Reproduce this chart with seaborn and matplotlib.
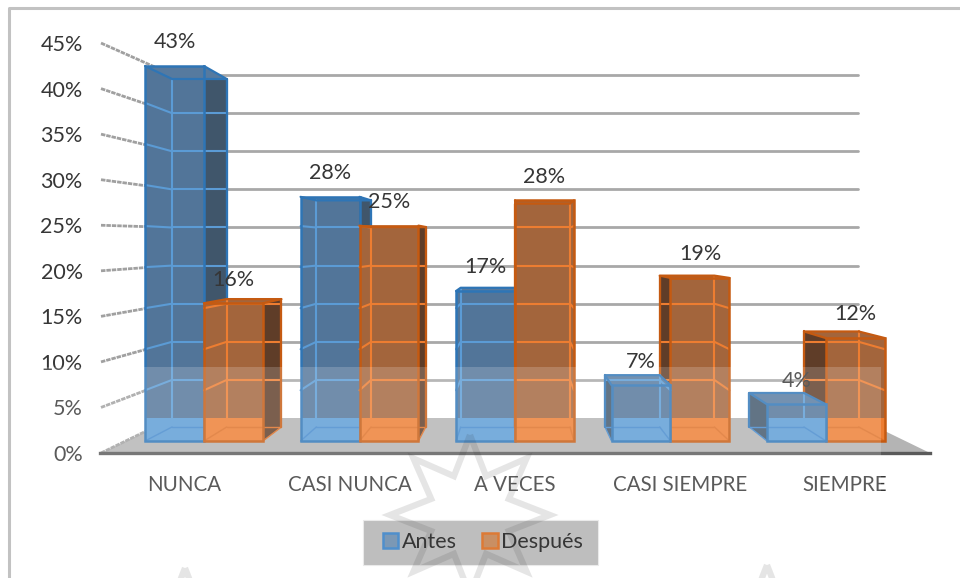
import numpy as np
import pandas as pd
import seaborn as sns
import matplotlib.pyplot as plt
from matplotlib.patches import Patch, Polygon, Rectangle

categorias = ["NUNCA", "CASI NUNCA", "A VECES", "CASI SIEMPRE", "SIEMPRE"]
antes = [43, 28, 17.2, 6.4, 4.2]
despues = [15.8, 24.7, 27.6, 18.7, 11.8]
etiquetas_antes = ["43%", "28%", "17%", "7%", "4%"]
etiquetas_despues = ["16%", "25%", "28%", "19%", "12%"]
ticks_pct = [0, 5, 10, 15, 20, 25, 30, 35, 40, 45]

W, H = 960, 578
sns.set_theme(style="white")
plt.rcParams["font.family"] = ["Lato", "DejaVu Sans"]
TXT = "#363636"

df = pd.DataFrame({
    "categoria": categorias * 2,
    "valor": antes + despues,
    "serie": ["Antes"] * 5 + ["Después"] * 5,
})

# pixel layout of the original picture
X0, PITCH = 204, 155.5   # first group centre, group spacing
Y0, SCALE = 441, 8.72    # bar baseline, px per percent
TOP = 30


def xd(px):
    return (px - X0) / PITCH


def yd(py):
    return (Y0 - py) / SCALE


# vanishing point of the fake 3d, ratio back/front of a bar, ratio of the front edge of the floor
VX, VY, D, F = xd(520), yd(246), 0.928, 1.0615


def back(x, y):
    return VX + D * (x - VX), VY + D * (y - VY)


fig = plt.figure(figsize=(W / 100, H / 100), dpi=100)
ax = fig.add_axes([100 / W, (H - 453) / H, 830 / W, (453 - TOP) / H])

# floor
ax.add_patch(Polygon([(xd(101), yd(453)), (xd(173), yd(418)), (xd(858), yd(418)), (xd(930), yd(453))],
                     closed=True, fc="#b4b4b4", ec="none", zorder=0.5))
# walls
for t in ticks_pct:
    fy = yd(453 - 9.11 * t)
    by = yd(418 - 7.62 * t)
    ax.plot([xd(101), xd(173)], [fy, by], color="#a0a0a0", lw=2.0, ls=(0, (1.6, 0.35)), zorder=0.6, clip_on=False)
    if t > 0:
        ax.plot([xd(173), xd(858)], [by, by], color="#a8a8a8", lw=2.0, zorder=0.6, clip_on=False)

sns.barplot(data=df, x="categoria", y="valor", hue="serie", order=categorias,
            hue_order=["Antes", "Después"], palette=["#527599", "#a3653c"],
            width=0.758, gap=0, saturation=1, legend=False, ax=ax)

ax.set_xlim(xd(100), xd(930))
ax.set_ylim(yd(453), yd(TOP))
ax.set_xlabel("")
ax.set_ylabel("")
# group labels sit on the front edge of the floor, so they spread out a bit
ax.set_xticks([VX + F * (i - VX) for i in range(5)], categorias)
ax.tick_params(axis="x", length=0, pad=16, labelsize=14.8, labelcolor=TXT)
ax.set_yticks([])
for s in ["top", "left", "right"]:
    ax.spines[s].set_visible(False)
ax.spines["bottom"].set_color("#5a5a5a")
ax.spines["bottom"].set_linewidth(2.4)

ESTILOS = [
    dict(edge="#2e75b6", line="#5b9bd5", low="#4388cc", side="#40566b", top="#567a9f", fl="#5b9bd5"),
    dict(edge="#c55a11", line="#ed7d31", low="#dd6f25", side="#5f3d28", top="#a3653c", fl="#ed7d31"),
]

# bars left of the vanishing point are stacked left to right, the others right to left
for j, (cont, est, etiquetas) in enumerate(zip(ax.containers, ESTILOS, [etiquetas_antes, etiquetas_despues])):
    for i, bar in enumerate(cont):
        x1, x2, h = bar.get_x(), bar.get_x() + bar.get_width(), bar.get_height()
        z = 2 + (i * 2 + j) * 2 if i < 3 else 30 + ((4 - i) * 2 + 1 - j) * 2
        bar.set_zorder(z)
        bar.set_edgecolor("none")
        bx1, by_top = back(x1, h)
        bx2, _ = back(x2, h)
        _, by_bot = back(x1, 0)
        # hull so the depth part is filled too
        ax.add_patch(Polygon([(x1, 0), (x2, 0), (bx2, by_bot), (bx2, by_top), (bx1, by_top), (bx1, by_bot)],
                             fc=bar.get_facecolor(), ec="none", zorder=z, clip_on=False))
        # dark side
        if bx2 > x2:
            sx, bsx = x2, bx2
        else:
            sx, bsx = x1, bx1
        ax.add_patch(Polygon([(sx, 0), (sx, h), (bsx, by_top), (bsx, by_bot)],
                             fc=est["side"], ec="none", zorder=z + 0.1, clip_on=False))
        # top face
        ax.add_patch(Polygon([(x1, h), (x2, h), (bx2, by_top), (bx1, by_top)],
                             fc=est["top"], ec="none", zorder=z + 0.2, clip_on=False))
        # floor seen through the bar
        ax.add_patch(Polygon([(x1, 0), (x2, 0), (x2, yd(418)), (x1, yd(418))],
                             fc=est["fl"], ec="none", zorder=z + 0.3, clip_on=False))
        # back grid showing through
        for t in ticks_pct[1:]:
            gy = yd(418 - 7.62 * t)
            if gy >= by_top:
                continue
            fy = VY + (gy - VY) / D
            ax.plot([bx1, bx2], [gy, gy], color=est["line"], lw=1.5, zorder=z + 0.4, solid_capstyle="butt")
            if sx == x2:
                ax.plot([x1, bx1], [fy, gy], color=est["line"], lw=1.5, zorder=z + 0.4)
            else:
                ax.plot([x2, bx2], [fy, gy], color=est["line"], lw=1.5, zorder=z + 0.4)
        # inner edges
        ax.plot([bx1, bx1], [by_bot, by_top], color=est["line"], lw=1.5, zorder=z + 0.5)
        ax.plot([bx2, bx2], [by_bot, by_top], color=est["line"], lw=1.5, zorder=z + 0.5)
        ax.plot([bx1, bx2], [by_bot, by_bot], color=est["low"], lw=1.0, zorder=z + 0.5)
        ax.plot([x1, bx1], [0, by_bot], color=est["low"], lw=1.0, zorder=z + 0.5)
        ax.plot([x2, bx2], [0, by_bot], color=est["low"], lw=1.0, zorder=z + 0.5)
        # outline
        ax.plot([x1, bx1, bx2, x2], [h, by_top, by_top, h], color=est["edge"], lw=1.6, zorder=z + 0.6, clip_on=False)
        ax.plot([bsx, bsx], [by_bot, by_top], color=est["edge"], lw=1.6, zorder=z + 0.6)
        ax.add_patch(Rectangle((x1, 0), x2 - x1, h, fc="none", ec=est["edge"], lw=1.8, zorder=z + 0.7))
        ax.annotate(etiquetas[i], (bar.get_x() + bar.get_width() / 2, h), xytext=(0, 17),
                    textcoords="offset points", ha="center", va="center", fontsize=15.5,
                    color=TXT, zorder=80, annotation_clip=False)

# percent labels have their own scale in front of the wall
ax2 = ax.twinx()
ax2.set_ylim(0, (453 - TOP) / 9.11)
ax2.yaxis.set_ticks_position("left")
ax2.set_yticks(ticks_pct, [f"{t}%" for t in ticks_pct])
ax2.tick_params(axis="y", length=0, pad=12.5, labelsize=15.5, labelcolor=TXT)
ax2.grid(False)
for s in ax2.spines.values():
    s.set_visible(False)

# sheet: everything below sits on the figure in pixels
cover = fig.add_axes([0, 0, 1, 1], zorder=5)
cover.set_xlim(0, W)
cover.set_ylim(H, 0)
cover.axis("off")
cover.patch.set_alpha(0)
cover.plot([8.5, 8.5, W], [H, 7.5, 7.5], color="#c2c2c2", lw=2.2)
cover.add_patch(Rectangle((363, 520), 235, 45, fc="#b0b0b0", ec="#e6e6e6", lw=0.8))

leg = cover.legend(handles=[Patch(fc="#7b98b5", ec="#4f8fcc", lw=1.8, label="Antes"),
                            Patch(fc="#c98f63", ec="#dd7a35", lw=1.8, label="Después")],
                   loc="center", bbox_to_anchor=(483, 542), bbox_transform=cover.transData,
                   ncols=2, frameon=False, fontsize=15.5, handlelength=0.72, handleheight=0.72,
                   handletextpad=0.16, columnspacing=1.2, labelcolor=TXT)


def star(cx, cy, r1=80, r2=42):
    ang = np.deg2rad(90 + 22.5 * np.arange(16))
    rad = np.where(np.arange(16) % 2 == 0, r1, r2)
    return np.c_[cx + rad * np.cos(ang), cy - rad * np.sin(ang)]


for cx, cy in [(470, 515), (185, 648), (767, 645)]:
    cover.add_patch(Polygon(star(cx, cy), closed=True, fc="none", ec=(0, 0, 0, 0.12), lw=4.5, joinstyle="miter"))

# pale wash over the lower part of the scan
cover.add_patch(Rectangle((0, 367), 881, H - 367, fc="white", alpha=0.18, ec="none"))

fig.savefig("out.png", dpi=100, facecolor="white")
